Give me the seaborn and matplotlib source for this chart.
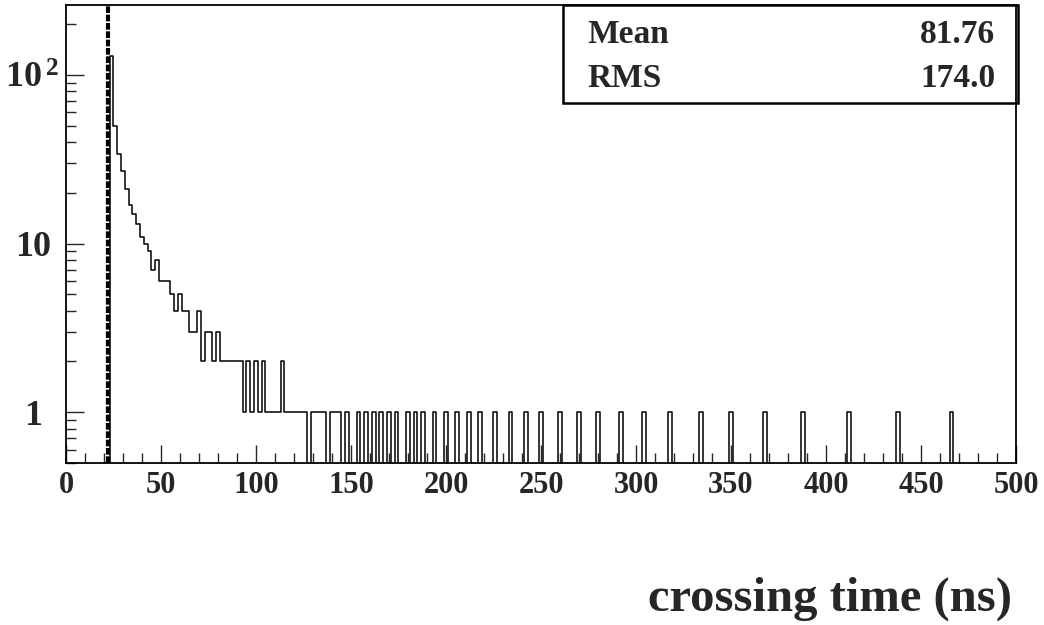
import numpy as np
import pandas as pd
import matplotlib
matplotlib.use("Agg")
import matplotlib.pyplot as plt
import seaborn as sns
from matplotlib.patches import Rectangle
from matplotlib.ticker import LogLocator, MultipleLocator, FuncFormatter, NullFormatter

# main peak, 2 ns bins, first bin centred at 24 ns
head_t0 = 24
head_counts = [130, 50, 34, 27, 21, 17, 15, 13, 11, 10, 9, 7, 8,
               6, 6, 6, 5, 4, 5, 4, 4, 3, 3, 4, 2, 3, 3, 2, 3,
               2, 2, 2, 2, 2, 2, 1, 2, 1, 2, 1, 2, 1, 1, 1, 1, 2,
               1, 1, 1, 1, 1, 1]
# single entries in the tail (bin centres, ns)
tail_times = [130, 132, 134, 136, 140, 142, 144, 148, 154, 158, 162, 166, 170, 174,
              180, 184, 188, 194, 200, 206, 212, 218, 226, 234, 242, 250, 260, 270,
              280, 292, 304, 318, 334, 350, 368, 388, 412, 438, 466]
cut_time = 22
stat_names = ["Mean", "RMS"]
stat_values = ["81.76", "174.0"]
x_ticks = list(range(0, 501, 50))
y_labels = {1: "1", 10: "10", 100: r"$\mathbf{10^{\,2}}$"}

sns.set_theme(style="ticks")
plt.rcParams["font.family"] = ["Liberation Serif", "DejaVu Serif"]
plt.rcParams["font.weight"] = "bold"
plt.rcParams["mathtext.fontset"] = "custom"
plt.rcParams["mathtext.bf"] = "Liberation Serif:bold"
plt.rcParams["mathtext.rm"] = "Liberation Serif:bold"

times = list(head_t0 + 2 * np.arange(len(head_counts))) + tail_times
weights = head_counts + [1] * len(tail_times)
df = pd.DataFrame({"t": times, "n": weights})

fig = plt.figure(figsize=(10.44, 6.25), dpi=100)
ax = fig.add_axes([0.0632, 0.2592, 0.9100, 0.7328])

sns.histplot(data=df, x="t", weights="n", binwidth=2, binrange=(1, 501), element="step",
             fill=False, color="black", linewidth=1.1, ax=ax)
ax.set_yscale("log")
ax.axvline(cut_time, color="black", lw=3.0, ls=(0, (1.6, 0.4)))

ax.set_xlim(0, 500)
ax.set_ylim(0.5, 260)

ax.set_xticks(x_ticks)
ax.xaxis.set_minor_locator(MultipleLocator(10))
ax.yaxis.set_major_locator(LogLocator(base=10, subs=[1.0]))
ax.yaxis.set_minor_locator(LogLocator(base=10, subs=np.arange(2, 10), numticks=20))
ax.yaxis.set_major_formatter(FuncFormatter(lambda v, p: y_labels.get(int(round(v)), "")))
ax.yaxis.set_minor_formatter(NullFormatter())

ax.tick_params(axis="x", which="major", direction="in", length=13, width=1, top=False,
               labelsize=22, pad=6)
ax.tick_params(axis="x", which="minor", direction="in", length=7, width=1, top=False)
ax.tick_params(axis="y", which="major", direction="in", length=13, width=1, right=False,
               labelsize=26, pad=24)
ax.tick_params(axis="y", which="minor", direction="in", length=7, width=1, right=False)
plt.setp(ax.get_yticklabels(), ha="center")
for sp in ax.spines.values():
    sp.set_linewidth(1.3)
    sp.set_color("black")

ax.set_ylabel("")
ax.set_xlabel("crossing time (ns)", fontsize=35, fontweight="bold", loc="right")
ax.xaxis.label.set_va("baseline")
ax.xaxis.set_label_coords(0.996, -0.322)

# stats box
ax.add_patch(Rectangle((0.523, 0.786), 0.479, 0.214, transform=ax.transAxes, fill=False,
                       lw=1.8, ec="black", clip_on=False, zorder=5))
for i, (name, val) in enumerate(zip(stat_names, stat_values)):
    yb = 0.917 - i * 0.096
    ax.text(0.549, yb, name, transform=ax.transAxes, fontsize=24, fontweight="bold",
            ha="left", va="baseline")
    ax.text(0.978, yb, val, transform=ax.transAxes, fontsize=24, fontweight="bold",
            ha="right", va="baseline")

fig.savefig("out.png", dpi=100, facecolor="white")
